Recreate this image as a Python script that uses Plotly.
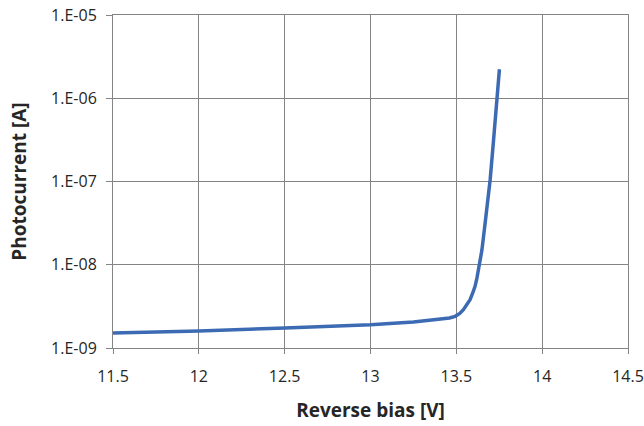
import plotly.graph_objects as go

bias_v = [11.5, 12.0, 12.5, 13.0, 13.25, 13.406, 13.46, 13.493, 13.52, 13.541, 13.56, 13.58,
          13.595, 13.609, 13.62, 13.629, 13.64, 13.649, 13.668, 13.687, 13.697, 13.716,
          13.727, 13.737, 13.744, 13.751]
current_a = [1.51e-9, 1.60e-9, 1.74e-9, 1.90e-9, 2.05e-9, 2.19e-9, 2.29e-9, 2.4e-9, 2.6e-9,
             2.88e-9, 3.25e-9, 3.8e-9, 4.55e-9, 5.5e-9, 6.9e-9, 8.7e-9, 1.15e-8, 1.5e-8,
             3.2e-8, 7.2e-8, 1.05e-7, 3.0e-7, 5.5e-7, 1.0e-6, 1.5e-6, 2.23e-6]

x_ticks = [11.5, 12, 12.5, 13, 13.5, 14, 14.5]
x_ticktext = ["11.5", "12", "12.5", "13", "13.5", "14", "14.5"]
y_ticks = [1e-9, 1e-8, 1e-7, 1e-6, 1e-5]
y_ticktext = ["1.E-09", "1.E-08", "1.E-07", "1.E-06", "1.E-05"]

fig = go.Figure()
fig.add_trace(go.Scatter(
    x=bias_v, y=current_a, mode="lines",
    line=dict(color="#3c6bb4", width=3.5),
    showlegend=False,
))

font_family = "Open Sans"
grid_col = "#848484"
txt_col = "#262626"

fig.update_layout(
    width=644, height=426,
    margin=dict(l=113, r=16, t=15, b=78),
    paper_bgcolor="white", plot_bgcolor="white",
    font=dict(family=font_family, color=txt_col),
    xaxis=dict(
        range=[11.5, 14.5], tickvals=x_ticks, ticktext=x_ticktext,
        automargin=False,
        showgrid=True, gridcolor=grid_col, gridwidth=1,
        showline=True, linecolor=grid_col, linewidth=1, mirror=True,
        ticks="outside", ticklen=5, tickcolor=grid_col,
        tickfont=dict(size=16, family=font_family, color=txt_col),
        ticklabelstandoff=9,
        zeroline=False,
        title=dict(text="<b>Reverse bias [V]</b>", font=dict(size=19, family=font_family, color=txt_col), standoff=17),
    ),
    yaxis=dict(
        type="log", range=[-9, -5], tickvals=y_ticks, ticktext=y_ticktext,
        automargin=False,
        showgrid=True, gridcolor=grid_col, gridwidth=1,
        showline=True, linecolor=grid_col, linewidth=1, mirror=True,
        ticks="outside", ticklen=6, tickcolor=grid_col,
        tickfont=dict(size=16, family=font_family, color=txt_col),
        ticklabelstandoff=6,
        zeroline=False,
        title=dict(text="<b>Photocurrent [A]</b>", font=dict(size=19, family=font_family, color=txt_col), standoff=19),
    ),
)

fig.write_html("out.html")
